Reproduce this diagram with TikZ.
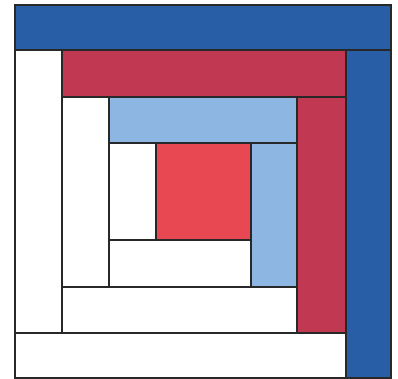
\documentclass[tikz,border=0pt]{standalone}
\definecolor{dblue}{RGB}{40,94,166}
\definecolor{dred}{RGB}{192,56,82}
\definecolor{lblue}{RGB}{142,182,226}
\definecolor{cred}{RGB}{232,72,82}
\definecolor{edge}{RGB}{40,40,40}
\begin{document}
\begin{tikzpicture}[x=1pt,y=-1pt,
  patch/.style={draw=edge,line width=1.2pt}]
\useasboundingbox (0,0) rectangle (398,379);
\fill[white] (0,0) rectangle (398,379);
% outer round
\filldraw[patch,fill=dblue] (15,5) rectangle (391,50);
\filldraw[patch,fill=dblue] (346,50) rectangle (391,378);
\filldraw[patch,fill=white] (15,50) rectangle (62,333);
\filldraw[patch,fill=white] (15,333) rectangle (346,378);
% second round
\filldraw[patch,fill=dred] (62,50) rectangle (346,97);
\filldraw[patch,fill=dred] (297,97) rectangle (346,333);
\filldraw[patch,fill=white] (62,97) rectangle (109,287);
\filldraw[patch,fill=white] (62,287) rectangle (297,333);
% third round
\filldraw[patch,fill=lblue] (109,97) rectangle (297,143);
\filldraw[patch,fill=lblue] (251,143) rectangle (297,287);
\filldraw[patch,fill=white] (109,143) rectangle (156,240);
\filldraw[patch,fill=white] (109,240) rectangle (251,287);
% centre
\filldraw[patch,fill=cred] (156,143) rectangle (251,240);
\end{tikzpicture}
\end{document}
